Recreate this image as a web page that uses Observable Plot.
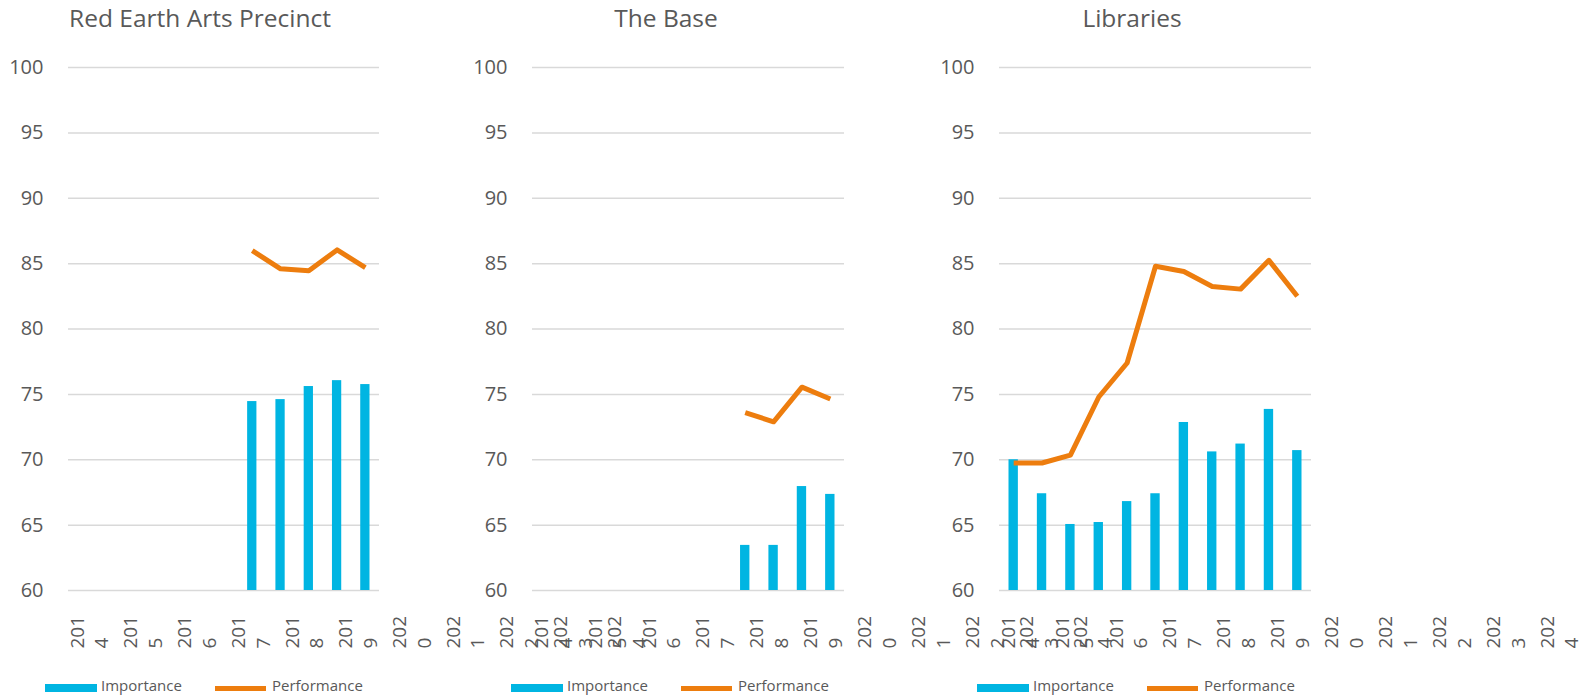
<!DOCTYPE html>
<html>
<head>
<meta charset="utf-8">
<script src="https://cdn.jsdelivr.net/npm/d3@7"></script>
<script src="https://cdn.jsdelivr.net/npm/@observablehq/plot@0.6"></script>
<style>
  html, body { margin: 0; padding: 0; background: #fff; }
  #root { position: relative; width: 1583px; height: 700px; overflow: hidden; font-family: "Open Sans", sans-serif; color: #595959; }
  .title { position: absolute; top: 6px; font-size: 24.5px; line-height: 24px; white-space: nowrap; transform: translateX(-50%); color: #595959; }
  .panel { position: absolute; top: 0; }
  .legend { position: absolute; top: 678px; height: 16px; font-size: 15px; line-height: 15px; white-space: nowrap; }
  .legend .item { position: absolute; top: 0; white-space: nowrap; }
  .legend .sw { position: absolute; }
</style>
</head>
<body>
<div id="root"></div>
<script>
// ---------- data ----------
const panelTitles = ["Red Earth Arts Precinct", "The Base", "Libraries"];
const seriesNames = ["Importance", "Performance"];
const tickLabels = ["2014", "2015", "2016", "2017", "2018", "2019", "2020", "2021", "2022", "2023", "2024"];
const yTicks = [60, 65, 70, 75, 80, 85, 90, 95, 100];

const redEarthImportance  = [null, null, null, null, null, null, 74.45, 74.6, 75.6, 76.05, 75.75];
const redEarthPerformance = [null, null, null, null, null, null, 86.0, 84.6, 84.45, 86.05, 84.7];
const baseImportance      = [null, null, null, null, null, null, null, 63.45, 63.45, 67.95, 67.35];
const basePerformance     = [null, null, null, null, null, null, null, 73.6, 72.9, 75.55, 74.65];
const librariesImportance  = [70.0, 67.4, 65.05, 65.2, 66.8, 67.4, 72.85, 70.6, 71.2, 73.85, 70.7];
const librariesPerformance = [69.75, 69.75, 70.35, 74.8, 77.4, 84.8, 84.4, 83.25, 83.05, 85.25, 82.5];

// ---------- layout / style ----------
const BLUE = "#00B5E2";
const ORANGE = "#ED7D0E";
const GRID = "#D9D9D9";
const TEXT = "#595959";
const panelOffsets = [0, 466, 932];
const plotLefts = [68, 532, 999];
const plotWidths = [311, 312, 312];
const slotCount = tickLabels.length;
const labelOffset = 1.41;   // slot units, Excel label placement artefact
const labelStep = 1.9;      // slot units between wrapped year labels

const panelsData = [
  [redEarthImportance, redEarthPerformance],
  [baseImportance, basePerformance],
  [librariesImportance, librariesPerformance]
];

const root = document.getElementById("root");

panelsData.forEach(([imp, perf], p) => {
  const rows = imp.map((v, i) => ({slot: i, importance: v, performance: perf[i]}));
  const marginLeft = 68, marginRight = 270;
  const chart = Plot.plot({
    width: marginLeft + plotWidths[p] + marginRight,
    height: 660,
    marginLeft, marginRight,
    marginTop: 67,
    marginBottom: 70,
    style: {background: "transparent", overflow: "visible", fontFamily: "'Open Sans', sans-serif", color: TEXT, maxWidth: "none"},
    x: {domain: [0, slotCount], axis: null},
    y: {domain: [yTicks[0], yTicks[yTicks.length - 1]], axis: null},
    marks: [
      Plot.ruleY(yTicks, {stroke: GRID, strokeWidth: 1.5}),
      Plot.axisY(yTicks, {tickSize: 0, tickPadding: 25, fontSize: 20, label: null, fill: TEXT}),
      Plot.rect(rows.filter(d => d.importance != null), {
        x1: "slot", x2: d => d.slot + 1, y1: yTicks[0], y2: "importance",
        insetLeft: 9.5, insetRight: 9.5, fill: BLUE
      }),
      Plot.line(rows.filter(d => d.performance != null), {
        x: d => d.slot + 0.5, y: "performance",
        stroke: ORANGE, strokeWidth: 5, strokeLinejoin: "round", strokeLinecap: "butt"
      }),
      Plot.text(tickLabels, {
        x: (d, i) => labelOffset + i * labelStep,
        text: d => d.slice(0, 3) + "\n" + d.slice(3),
        frameAnchor: "bottom", dy: 58, rotate: -90, textAnchor: "start",
        lineHeight: 1.3, fontSize: 19, fill: TEXT
      })
    ]
  });
  const wrap = document.createElement("div");
  wrap.className = "panel";
  wrap.style.left = (plotLefts[p] - marginLeft) + "px";
  wrap.appendChild(chart);
  root.appendChild(wrap);

  const title = document.createElement("div");
  title.className = "title";
  title.style.left = (panelOffsets[p] + 200) + "px";
  title.textContent = panelTitles[p];
  root.appendChild(title);

  const legend = document.createElement("div");
  legend.className = "legend";
  legend.style.left = (panelOffsets[p] + 45) + "px";
  legend.innerHTML =
    `<span class="sw" style="left:0;top:6px;width:52px;height:8px;background:${BLUE}"></span>` +
    `<span class="item" style="left:56px">${seriesNames[0]}</span>` +
    `<span class="sw" style="left:170px;top:8px;width:51px;height:5px;background:${ORANGE}"></span>` +
    `<span class="item" style="left:227px">${seriesNames[1]}</span>`;
  root.appendChild(legend);
});
</script>
</body>
</html>
